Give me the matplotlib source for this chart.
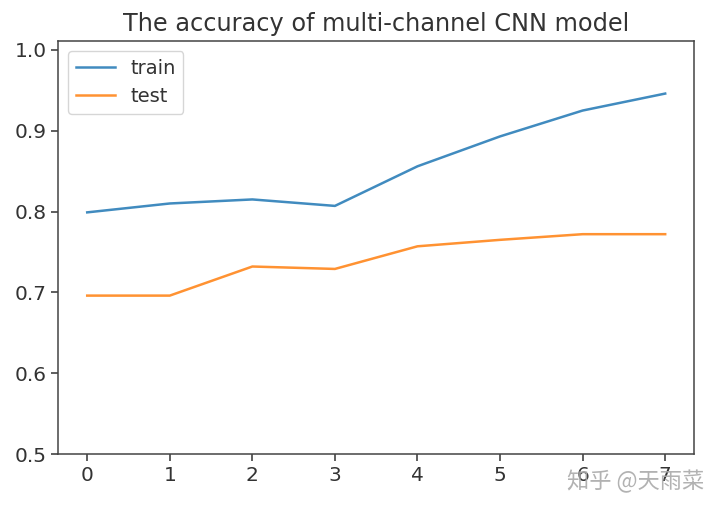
import matplotlib
matplotlib.use('Agg')
import matplotlib.pyplot as plt

epochs = [0, 1, 2, 3, 4, 5, 6, 7]
train_acc = [0.799, 0.810, 0.815, 0.807, 0.856, 0.893, 0.925, 0.946]
test_acc = [0.696, 0.696, 0.732, 0.729, 0.757, 0.765, 0.772, 0.772]

plt.rcParams['font.size'] = 14.5
plt.rcParams['text.color'] = '#333333'
plt.rcParams['xtick.color'] = '#333333'
plt.rcParams['ytick.color'] = '#333333'

fig = plt.figure(figsize=(7.2, 5.13), dpi=100)
ax = fig.add_axes([0.081, 0.115, 0.883, 0.805])
ax.plot(epochs, train_acc, color='#1f77b4', lw=1.8, alpha=0.85, label='train')
ax.plot(epochs, test_acc, color='#ff7f0e', lw=1.8, alpha=0.85, label='test')
ax.set_ylim(0.5, 1.011)
ax.set_xticks(epochs)
ax.tick_params(labelsize=14.5, length=5, width=1.1)
ax.set_title('The accuracy of multi-channel CNN model', fontsize=17.3, pad=7)
ax.legend(loc='upper left', fontsize=14)
for s in ax.spines.values():
    s.set_color('#444444')
    s.set_linewidth(1.1)

# watermark, overlaps the last tick labels as in the source image
fig.text(0.978, 0.062, '知乎 @天雨菜', fontsize=16, color='#aaaaaa', alpha=0.9,
         ha='right', va='center', family=['Noto Sans CJK SC', 'DejaVu Sans'])

fig.savefig('out.png', dpi=100)
